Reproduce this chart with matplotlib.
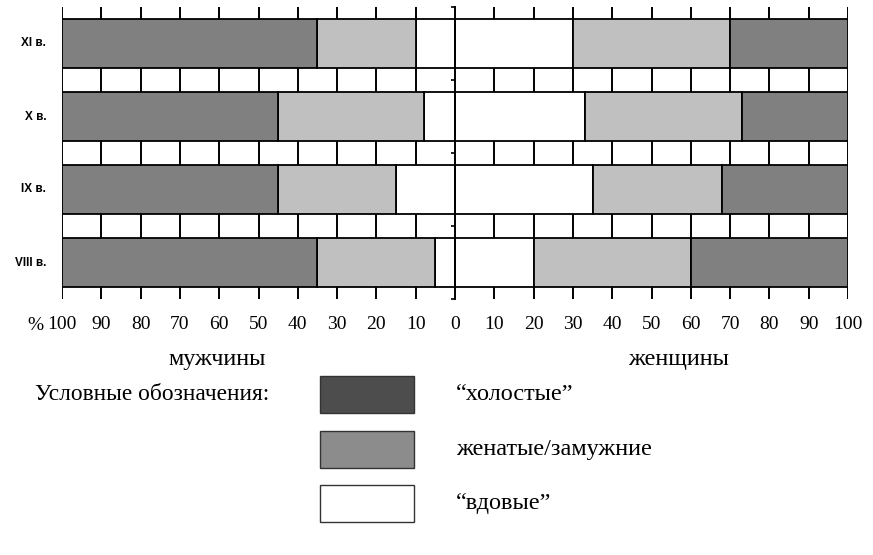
import numpy as np
import matplotlib
matplotlib.use('Agg')
import matplotlib.pyplot as plt
from matplotlib.patches import Rectangle

# данные (снизу вверх)
centuries = ['VIII в.', 'IX в.', 'X в.', 'XI в.']
men_single = [65, 55, 55, 65]
men_married = [30, 30, 37, 25]
men_widowed = [5, 15, 8, 10]
women_widowed = [20, 35, 33, 30]
women_married = [40, 33, 40, 40]
women_single = [40, 32, 27, 30]

legend_labels = ['“холостые”', 'женатые/замужние', '“вдовые”']
legend_colors = ['#4d4d4d', '#8c8c8c', '#ffffff']

tick_vals = list(range(-100, 101, 10))
tick_labels = [str(abs(v)) for v in tick_vals]

bar_dark = '#808080'
bar_light = '#c0c0c0'
serif = 'Liberation Serif'

W, H = 873, 555
fig = plt.figure(figsize=(W / 100, H / 100), dpi=100)
ax = fig.add_axes([62 / W, 1 - 299 / H, 786 / W, 292 / H])

y = np.arange(len(centuries))
h = 0.664
mw = np.array(men_widowed)
mm = np.array(men_married)
ms = np.array(men_single)
ww = np.array(women_widowed)
wm = np.array(women_married)

kw = dict(height=h, edgecolor='black', linewidth=1.3, zorder=3)
# мужчины (влево от нуля)
ax.barh(y, -mw, left=0, color='white', **kw)
ax.barh(y, -mm, left=-mw, color=bar_light, **kw)
ax.barh(y, -ms, left=-(mw + mm), color=bar_dark, **kw)
# женщины (вправо)
ax.barh(y, ww, left=0, color='white', **kw)
ax.barh(y, wm, left=ww, color=bar_light, **kw)
ax.barh(y, women_single, left=ww + wm, color=bar_dark, **kw)

for v in tick_vals:
    if v != 0:
        ax.axvline(v, color='black', lw=1.4, zorder=1)

ax.set_xlim(-100, 100)
ax.set_ylim(-0.5, 3.5)
for s in ['top', 'bottom', 'right']:
    ax.spines[s].set_visible(False)
ax.spines['left'].set_position(('data', 0))
ax.spines['left'].set_linewidth(1.4)
ax.spines['left'].set_zorder(4)
ax.set_yticks(np.arange(-0.5, 3.51, 0.5))
ax.tick_params(axis='y', length=3, width=1.2, direction='out', labelleft=False)
ax.set_xticks(tick_vals)
ax.set_xticklabels(tick_labels, fontfamily=serif, fontsize=14)
ax.tick_params(axis='x', length=0, pad=12)

for yi, lab in zip(y, centuries):
    ax.text(-104, yi, lab, ha='right', va='center', fontsize=8.5,
            fontweight='bold', fontfamily='Liberation Sans')

fig.text(35 / W, 1 - 326 / H, '%', ha='center', va='center',
         fontfamily=serif, fontsize=14)
fig.text(217 / W, 1 - 359 / H, 'мужчины', ha='center', va='center',
         fontfamily=serif, fontsize=17.5)
fig.text(679 / W, 1 - 359 / H, 'женщины', ha='center', va='center',
         fontfamily=serif, fontsize=17.5)

# условные обозначения
fig.text(35 / W, 1 - 395 / H, 'Условные обозначения:', ha='left', va='center',
         fontfamily=serif, fontsize=16.8)
box_tops = [376, 431, 485]
for top, lab, col in zip(box_tops, legend_labels, legend_colors):
    fig.add_artist(Rectangle((320 / W, 1 - (top + 37) / H), 94 / W, 37 / H,
                             transform=fig.transFigure, facecolor=col,
                             edgecolor='#333333', linewidth=1.0))
    fig.text(456 / W, 1 - (top + 19) / H, lab, ha='left', va='center',
             fontfamily=serif, fontsize=17.5)

plt.savefig('out.png', dpi=100)
